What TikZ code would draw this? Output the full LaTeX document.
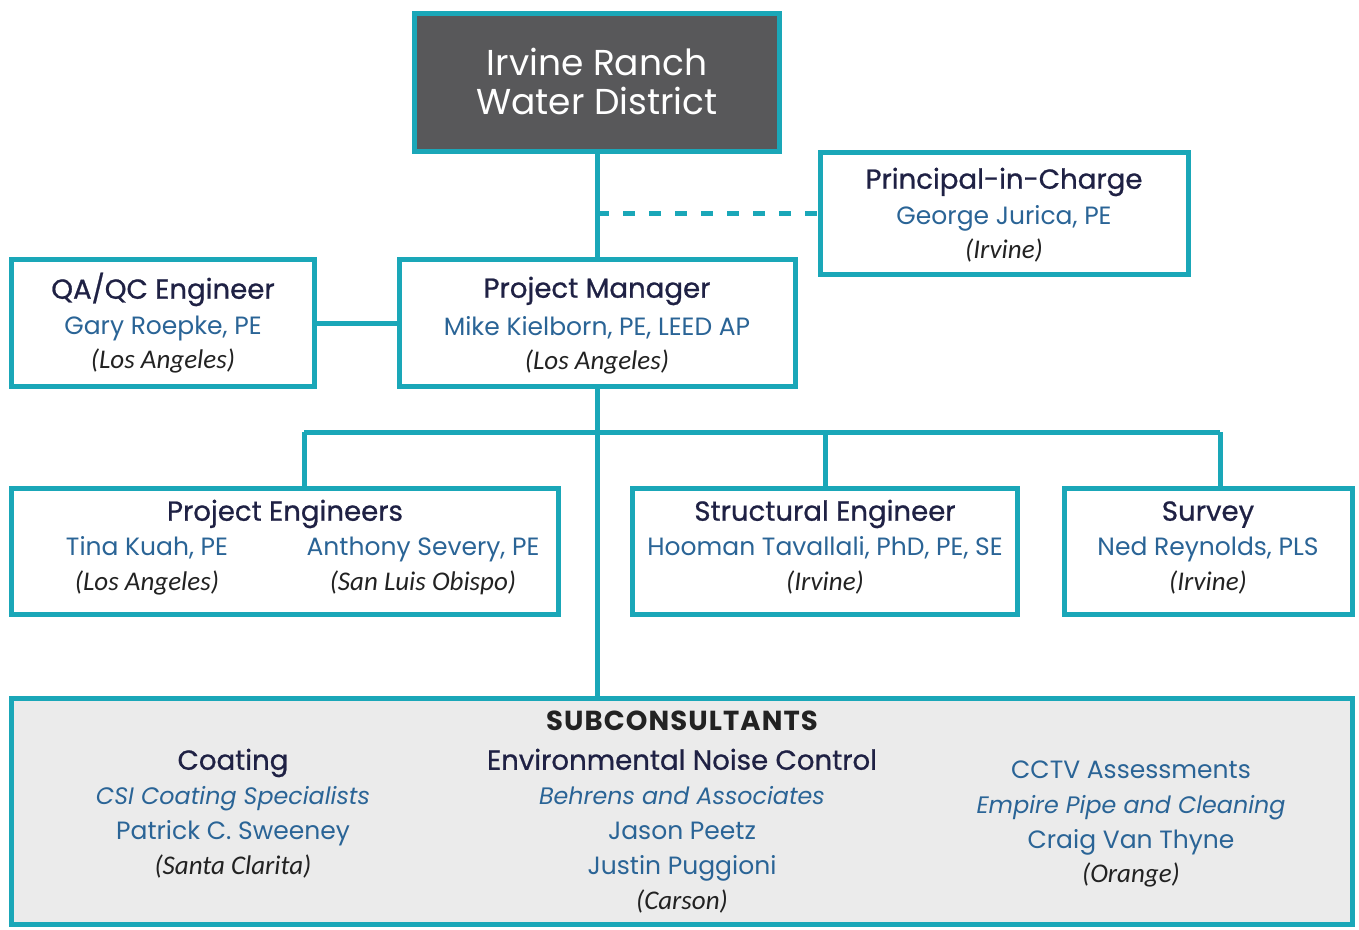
\documentclass[tikz,border=0pt]{standalone}
\usepackage{fontspec}
\setmainfont{Poppins}
\newfontfamily\cityfont{Carlito}
\newfontfamily\ttlfont[FakeBold=0.8]{Poppins}
\newfontfamily\semifont[LetterSpace=4]{Poppins}
\definecolor{teal}{HTML}{1AA7B8}
\definecolor{darkbox}{HTML}{58585A}
\definecolor{navy}{HTML}{1F2144}
\definecolor{nameblue}{HTML}{2A6496}
\definecolor{subgrey}{HTML}{EBEBEB}
\definecolor{citycol}{HTML}{222222}
\tikzset{
  box/.style={draw=teal, line width=5pt, fill=white, inner sep=0pt, anchor=center},
  conn/.style={draw=teal, line width=5pt},
  txt/.style={anchor=mid, inner sep=0pt, yshift=-6pt},
  ttl/.style={txt, font=\ttlfont\fontsize{27.6}{30}\selectfont, text=navy},
  nm/.style={txt, font=\fontsize{25}{28}\selectfont, text=nameblue},
  nmi/.style={txt, font=\fontsize{23.8}{28}\selectfont\itshape, text=nameblue},
  city/.style={txt, font=\cityfont\fontsize{27}{30}\selectfont\itshape, text=citycol},
}
\begin{document}
\begin{tikzpicture}[x=1pt,y=-1pt]
\useasboundingbox (0,0) rectangle (1359,929);
% boxes
\node[box, fill=darkbox, minimum width=365pt, minimum height=138pt] (irwd) at (597,82.5) {};
\node[box, minimum width=368pt, minimum height=122pt] (pic) at (1004.5,213.5) {};
\node[box, minimum width=303pt, minimum height=127pt] (qa) at (163,323) {};
\node[box, minimum width=396pt, minimum height=127pt] (pm) at (597.5,323) {};
\node[box, minimum width=547pt, minimum height=126pt] (pe) at (285,551.5) {};
\node[box, minimum width=385pt, minimum height=126pt] (se) at (825,551.5) {};
\node[box, minimum width=288pt, minimum height=126pt] (sv) at (1208.5,551.5) {};
\node[box, fill=subgrey, minimum width=1341pt, minimum height=226pt] (sub) at (682,811.5) {};
% connectors
\coordinate (dashstart) at (597,213);
\coordinate (busL) at (304,432);
\coordinate (busM) at (825,432);
\coordinate (busR) at (1220,432);
\draw[conn] (irwd.south -| pm.north) -- (pm.north);
\draw[conn, dash pattern=on 12pt off 14pt] (dashstart) -- (dashstart -| pic.west);
\draw[conn] (qa.east) -- (qa.east -| pm.west);
\draw[conn] (pm.south -| dashstart) -- (sub.north -| dashstart);
\draw[conn] (busL) -- (busR);
\draw[conn] (busL) -- (pe.north -| busL);
\draw[conn] (busM) -- (se.north -| busM);
\draw[conn] (busR) -- (sv.north -| busR);
% texts
\node[txt, yshift=-3pt, font=\fontsize{36}{40}\selectfont, text=white] (irwd1) at (597,64) {Irvine Ranch};
\node[txt, yshift=-3pt, font=\fontsize{36}{40}\selectfont, text=white] (irwd2) at (597,103) {Water District};
\node[ttl] (pic1) at (1004,180) {Principal-in-Charge};
\node[nm] (pic2) at (1004,216) {George Jurica, PE};
\node[city] (pic3) at (1004,250) {(Irvine)};
\node[ttl] (qa1) at (163,290) {QA/QC Engineer};
\node[nm] (qa2) at (163,326) {Gary Roepke, PE};
\node[city] (qa3) at (163,360) {(Los Angeles)};
\node[ttl] (pm1) at (597,289) {Project Manager};
\node[nm] (pm2) at (597,327) {Mike Kielborn, PE, LEED AP};
\node[city] (pm3) at (597,361) {(Los Angeles)};
\node[ttl] (pe1) at (285,512) {Project Engineers};
\node[nm] (pe2) at (147,547) {Tina Kuah, PE};
\node[nm] (pe3) at (423,547) {Anthony Severy, PE};
\node[city] (pe4) at (147,582) {(Los Angeles)};
\node[city] (pe5) at (423,582) {(San Luis Obispo)};
\node[ttl] (se1) at (825,512) {Structural Engineer};
\node[nm] (se2) at (825,547) {Hooman Tavallali, PhD, PE, SE};
\node[city] (se3) at (825,582) {(Irvine)};
\node[ttl] (sv1) at (1208,512) {Survey};
\node[nm] (sv2) at (1208,547) {Ned Reynolds, PLS};
\node[city] (sv3) at (1208,582) {(Irvine)};
\node[txt, font=\semifont\bfseries\fontsize{27.5}{30}\selectfont, text=citycol] (sub0) at (682,722) {SUBCONSULTANTS};
\node[ttl] (co1) at (233,761) {Coating};
\node[nmi] (co2) at (233,796) {CSI Coating Specialists};
\node[nm] (co3) at (233,831) {Patrick C. Sweeney};
\node[city] (co4) at (233,866) {(Santa Clarita)};
\node[ttl] (en1) at (682,761) {Environmental Noise Control};
\node[nmi] (en2) at (682,796) {Behrens and Associates};
\node[nm] (en3) at (682,831) {Jason Peetz};
\node[nm] (en4) at (682,866) {Justin Puggioni};
\node[city] (en5) at (682,901) {(Carson)};
\node[nm] (cc1) at (1131,770) {CCTV Assessments};
\node[nmi] (cc2) at (1131,805) {Empire Pipe and Cleaning};
\node[nm] (cc3) at (1131,840) {Craig Van Thyne};
\node[city] (cc4) at (1131,874) {(Orange)};
\end{tikzpicture}
\end{document}
